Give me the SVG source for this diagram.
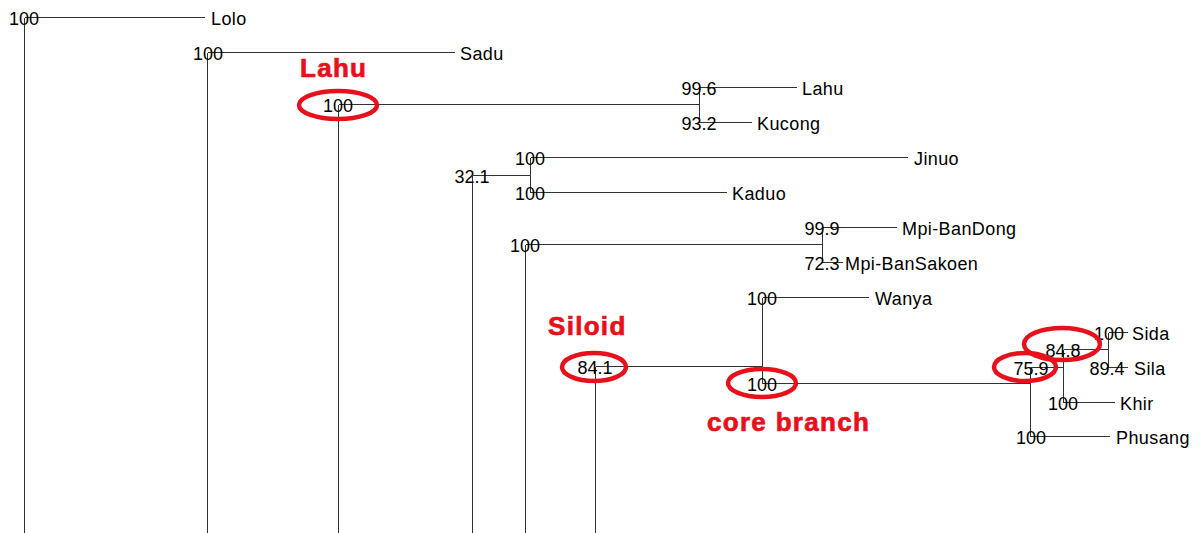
<svg xmlns="http://www.w3.org/2000/svg" width="1203" height="533" viewBox="0 0 1203 533">
  <style>
    .br { stroke: #333; stroke-width: 1; fill: none; shape-rendering: crispEdges; }
    .sup { font-family: "Liberation Sans", Arial, sans-serif; font-size: 18px; fill: #000; text-anchor: middle; }
    .tip { font-family: "Liberation Sans", Arial, sans-serif; font-size: 18px; fill: #000; letter-spacing: 0.4px; }
    .note { font-family: "Liberation Sans", Arial, sans-serif; font-size: 26px; font-weight: bold; fill: #e8101a; stroke: #e8101a; stroke-width: 0.7; letter-spacing: 1.3px; }
    .ring { fill: none; stroke: #e8101a; stroke-width: 4.5; }
  </style>
  <rect width="1203" height="533" fill="#fff"/>

  <!-- branches -->
  <g id="connectors">
    <!-- root / Lolo -->
    <path class="br" d="M24.5 17.5 H205 M24.5 17.5 V533"/>
    <!-- Sadu -->
    <path class="br" d="M207.5 52.5 H455 M207.5 52.5 V533"/>
    <!-- Lahu clade -->
    <path class="br" d="M338.5 104.5 H699.5 M338.5 104.5 V533"/>
    <path class="br" d="M699.5 87.5 V122.5 M699.5 87.5 H797 M699.5 122.5 H752"/>
    <!-- Jinuo / Kaduo -->
    <path class="br" d="M472.5 175.5 H530.5 M472.5 175.5 V533"/>
    <path class="br" d="M530.5 157.5 V192.5 M530.5 157.5 H908 M530.5 192.5 H727"/>
    <!-- Mpi -->
    <path class="br" d="M525.5 244.5 H822.5 M525.5 244.5 V533"/>
    <path class="br" d="M822.5 227.5 V262.5 M822.5 227.5 H897 M822.5 262.5 H843"/>
    <!-- Siloid -->
    <path class="br" d="M595.5 366.5 H762.5 M595.5 366.5 V533"/>
    <path class="br" d="M762.5 297.5 V383.5 M762.5 297.5 H869 M762.5 383.5 H1030.5"/>
    <path class="br" d="M1030.5 367.5 V436.5 M1030.5 436.5 H1110"/>
    <path class="br" d="M1063.5 349.5 V402.5 M1030.5 367.5 H1063.5 M1063.5 402.5 H1115"/>
    <path class="br" d="M1063.5 349.5 H1108.5 M1108.5 332.5 V367.5 M1108.5 332.5 H1128 M1108.5 367.5 H1128"/>
  </g>

  <!-- support values and tip labels -->
  <g id="n-lolo"><text class="sup" x="24" y="25">100</text><text class="tip" x="211" y="25">Lolo</text></g>
  <g id="n-sadu"><text class="sup" x="208" y="60">100</text><text class="tip" x="460" y="60">Sadu</text></g>
  <g id="n-lahu-clade"><text class="sup" x="338" y="112">100</text></g>
  <g id="n-lahu"><text class="sup" x="699" y="95">99.6</text><text class="tip" x="802" y="95">Lahu</text></g>
  <g id="n-kucong"><text class="sup" x="699" y="130">93.2</text><text class="tip" x="757" y="130">Kucong</text></g>
  <g id="n-jk"><text class="sup" x="472" y="183">32.1</text></g>
  <g id="n-jinuo"><text class="sup" x="530" y="165">100</text><text class="tip" x="914" y="165">Jinuo</text></g>
  <g id="n-kaduo"><text class="sup" x="530" y="200">100</text><text class="tip" x="732" y="200">Kaduo</text></g>
  <g id="n-mpi"><text class="sup" x="525" y="252">100</text></g>
  <g id="n-bandong"><text class="sup" x="822" y="235">99.9</text><text class="tip" x="902" y="235">Mpi-BanDong</text></g>
  <g id="n-bansakoen"><text class="sup" x="822" y="270">72.3</text><text class="tip" x="845" y="270">Mpi-BanSakoen</text></g>
  <g id="n-siloid"><text class="sup" x="595" y="374">84.1</text></g>
  <g id="n-wanya"><text class="sup" x="762" y="305">100</text><text class="tip" x="875" y="305">Wanya</text></g>
  <g id="n-core"><text class="sup" x="762" y="391">100</text></g>
  <g id="n-759"><text class="sup" x="1031" y="375">75.9</text></g>
  <g id="n-848"><text class="sup" x="1063" y="357">84.8</text></g>
  <g id="n-sida"><text class="sup" x="1109" y="340">100</text><text class="tip" x="1132" y="340">Sida</text></g>
  <g id="n-sila"><text class="sup" x="1107" y="375">89.4</text><text class="tip" x="1134" y="375">Sila</text></g>
  <g id="n-khir"><text class="sup" x="1063" y="410">100</text><text class="tip" x="1120" y="410">Khir</text></g>
  <g id="n-phusang"><text class="sup" x="1031" y="444">100</text><text class="tip" x="1116" y="444">Phusang</text></g>

  <!-- highlighted nodes -->
  <g id="mark-lahu"><ellipse class="ring" cx="338" cy="105" rx="39" ry="14"/><text class="note" x="300" y="77">Lahu</text></g>
  <g id="mark-siloid"><ellipse class="ring" cx="594" cy="367" rx="32" ry="14"/><text class="note" x="548" y="335">Siloid</text></g>
  <g id="mark-core"><ellipse class="ring" cx="762" cy="383" rx="34" ry="14"/><text class="note" x="707" y="431">core branch</text></g>
  <g id="mark-759"><ellipse class="ring" cx="1025" cy="367" rx="31" ry="14"/></g>
  <g id="mark-848"><ellipse class="ring" cx="1062" cy="344" rx="38" ry="16"/></g>
</svg>
